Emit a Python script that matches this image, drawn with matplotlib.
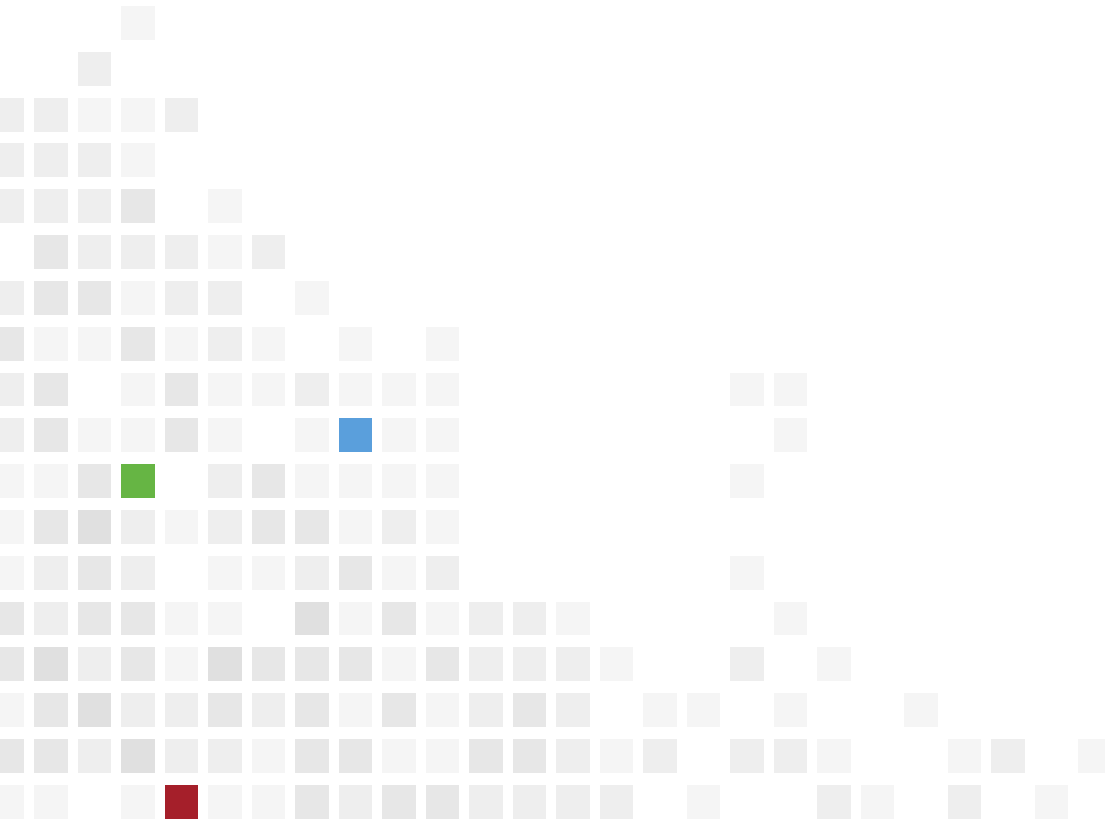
import matplotlib
matplotlib.use("Agg")
import matplotlib.pyplot as plt
from matplotlib.patches import Rectangle

N_COLS = 26
N_ROWS = 18

# shade level per cell (0 = empty, 1 = lightest ... 4 = darkest), rows listed top to bottom
row_00 = [0,0,0,1,0,0,0,0,0,0,0,0,0,0,0,0,0,0,0,0,0,0,0,0,0,0]
row_01 = [0,0,2,0,0,0,0,0,0,0,0,0,0,0,0,0,0,0,0,0,0,0,0,0,0,0]
row_02 = [2,2,1,1,2,0,0,0,0,0,0,0,0,0,0,0,0,0,0,0,0,0,0,0,0,0]
row_03 = [2,2,2,1,0,0,0,0,0,0,0,0,0,0,0,0,0,0,0,0,0,0,0,0,0,0]
row_04 = [2,2,2,3,0,1,0,0,0,0,0,0,0,0,0,0,0,0,0,0,0,0,0,0,0,0]
row_05 = [0,3,2,2,2,1,2,0,0,0,0,0,0,0,0,0,0,0,0,0,0,0,0,0,0,0]
row_06 = [2,3,3,1,2,2,0,1,0,0,0,0,0,0,0,0,0,0,0,0,0,0,0,0,0,0]
row_07 = [3,1,1,3,1,2,1,0,1,0,1,0,0,0,0,0,0,0,0,0,0,0,0,0,0,0]
row_08 = [2,3,0,1,3,1,1,2,1,1,1,0,0,0,0,0,0,1,1,0,0,0,0,0,0,0]
row_09 = [2,3,1,1,3,1,0,1,1,1,1,0,0,0,0,0,0,0,1,0,0,0,0,0,0,0]
row_10 = [1,1,3,1,0,2,3,1,1,1,1,0,0,0,0,0,0,1,0,0,0,0,0,0,0,0]
row_11 = [1,3,4,2,1,2,3,3,1,2,1,0,0,0,0,0,0,0,0,0,0,0,0,0,0,0]
row_12 = [1,2,3,2,0,1,1,2,3,1,2,0,0,0,0,0,0,1,0,0,0,0,0,0,0,0]
row_13 = [3,2,3,3,1,1,0,4,1,3,1,2,2,1,0,0,0,0,1,0,0,0,0,0,0,0]
row_14 = [3,4,2,3,1,4,3,3,3,1,3,2,2,2,1,0,0,2,0,1,0,0,0,0,0,0]
row_15 = [1,3,4,2,2,3,2,3,1,3,1,2,3,2,0,1,1,0,1,0,0,1,0,0,0,0]
row_16 = [3,3,2,4,2,2,1,3,3,1,1,3,3,2,1,2,0,2,2,1,0,0,1,2,0,1]
row_17 = [1,1,0,1,1,1,1,3,2,3,3,2,2,2,2,0,1,0,0,2,1,0,2,0,1,0]

shade_rows = [row_00, row_01, row_02, row_03, row_04, row_05, row_06, row_07, row_08,
              row_09, row_10, row_11, row_12, row_13, row_14, row_15, row_16, row_17]

# highlighted cells: (row, column, colour)
highlight_rows = [9, 10, 17]
highlight_cols = [8, 3, 4]
highlight_colors = ["#5a9fdc", "#66b544", "#a51f2a"]

shade_colors = {1: "#f5f5f5", 2: "#eeeeee", 3: "#e7e7e7", 4: "#e0e0e0"}

fig = plt.figure(figsize=(11.05, 8.21), dpi=100)
ax = fig.add_axes([0, 0, 1, 1])
ax.set_xlim(-0.172, 25.23)
ax.set_ylim(17.42, -0.502)
ax.axis("off")

W, H = 0.76, 0.74
for r, row in enumerate(shade_rows):
    for c, v in enumerate(row):
        if v:
            ax.add_patch(Rectangle((c - W / 2, r - H / 2), W, H,
                                   facecolor=shade_colors[v], edgecolor="none"))

for r, c, col in zip(highlight_rows, highlight_cols, highlight_colors):
    ax.add_patch(Rectangle((c - W / 2, r - H / 2), W, H, facecolor=col, edgecolor="none"))

fig.savefig("out.png", dpi=100, facecolor="white")
